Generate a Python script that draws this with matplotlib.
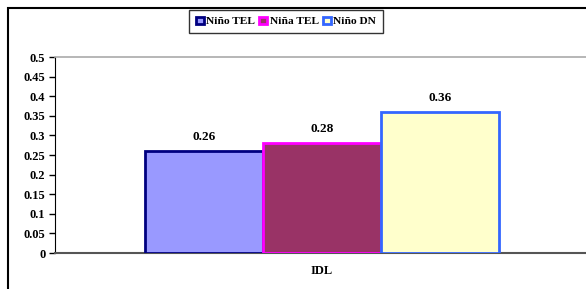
import matplotlib
matplotlib.use("Agg")
import matplotlib.pyplot as plt
from matplotlib.patches import Rectangle
import numpy as np

categories = ["IDL"]
series = ["Niño TEL", "Niña TEL", "Niño DN"]
values = [0.26, 0.28, 0.36]
yticks = [0, 0.05, 0.1, 0.15, 0.2, 0.25, 0.3, 0.35, 0.4, 0.45, 0.5]

fills = ["#9999FF", "#993366", "#FFFFCC"]
edges = ["#000080", "#FF00FF", "#3366FF"]

plt.rcParams['font.family'] = ['Liberation Serif', 'DejaVu Serif']
plt.rcParams['font.weight'] = 'bold'

W, H = 586, 289
fig = plt.figure(figsize=(W/100, H/100), dpi=100)

# outer chart border (cropped on right/bottom)
fig.patches.append(Rectangle((8/W, -0.1), 1.2, 1 - 8/H + 0.1, transform=fig.transFigure,
                             fill=False, edgecolor="#000000", linewidth=1.5))

left, right = 55/W, 589/W
bottom, top = 1 - 253/H, 1 - 57/H
ax = fig.add_axes([left, bottom, right-left, top-bottom])

x = np.arange(len(categories))
bw = 118/(589-55)
handles = []
for i, (s, v) in enumerate(zip(series, values)):
    off = (i - 1) * bw
    b = ax.bar(x + off, [v], width=bw, color=fills[i], edgecolor=edges[i],
               linewidth=2, label=s, zorder=3)
    handles.append(b)
    ax.annotate(f"{v:.2f}", (x[0] + off, v), xytext=(0, 6), textcoords="offset points",
                ha="center", va="bottom", fontsize=9.5, fontweight="bold")

ax.set_xlim(-0.5, 0.5)
ax.set_ylim(0, 0.5)
ax.set_yticks(yticks)
ax.set_yticklabels([f"{t:g}" for t in yticks], fontsize=9, fontweight="bold")
ax.set_xticks(x)
ax.set_xticklabels(categories, fontsize=9, fontweight="bold")
ax.tick_params(axis="x", length=0, pad=9)
ax.tick_params(axis="y", direction="out", length=4, width=1, color="#000000", pad=3)

ax.spines["left"].set_color("#000000")
ax.spines["bottom"].set_color("#555555")
ax.spines["bottom"].set_linewidth(1.5)
ax.spines["top"].set_color("#AAAAAA")
ax.spines["top"].set_linewidth(1.2)
ax.spines["right"].set_visible(False)

leg = fig.legend(handles=handles, labels=series, loc="center",
                 bbox_to_anchor=(286/W, 1 - 21.5/H), ncol=3, frameon=True,
                 fontsize=8.2, handlelength=0.7, handleheight=0.7, handletextpad=0.2,
                 columnspacing=0.35, borderpad=0.6, borderaxespad=0, fancybox=False)
leg.get_frame().set_edgecolor("#000000")
leg.get_frame().set_linewidth(1)
for t in leg.get_texts():
    t.set_fontweight("bold")

fig.savefig("out.png", dpi=100)
